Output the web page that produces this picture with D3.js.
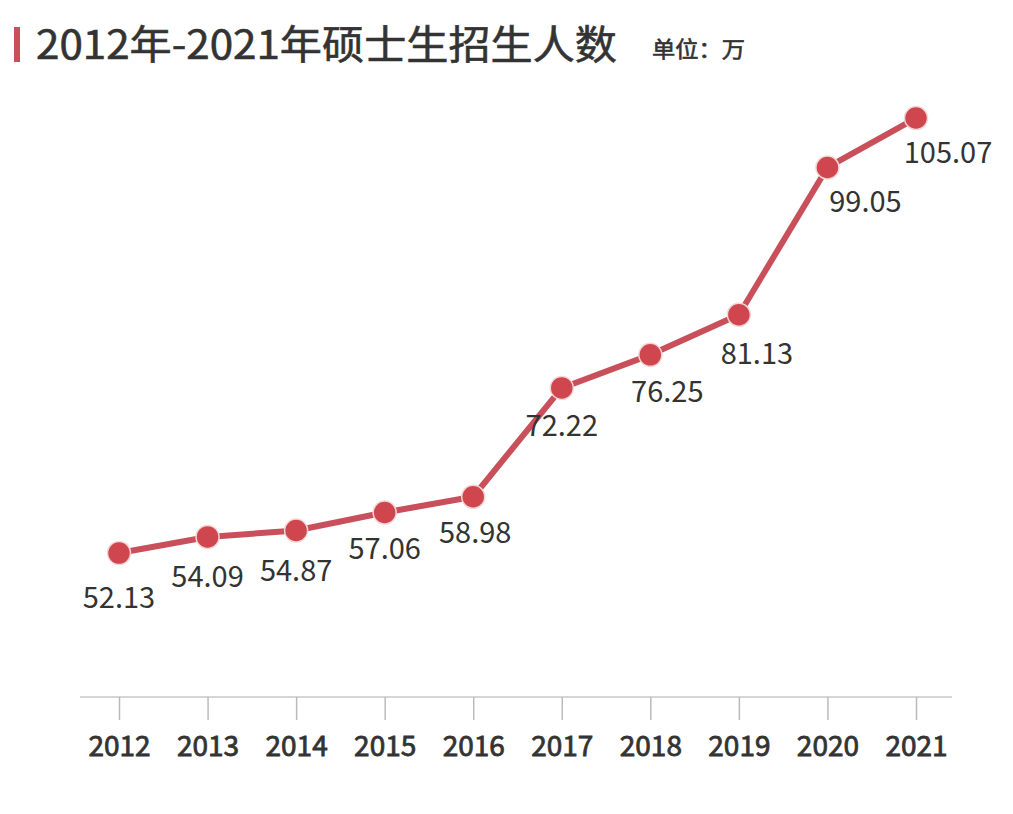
<!DOCTYPE html>
<html><head><meta charset="utf-8">
<script src="https://cdn.jsdelivr.net/npm/d3@7"></script>
<style>body{margin:0;background:#fff}svg{display:block}text{font-family:"Noto Sans CJK SC","Noto Sans",sans-serif}</style>
</head><body>
<script>
const years = ["2012","2013","2014","2015","2016","2017","2018","2019","2020","2021"];
const values = [52.13,54.09,54.87,57.06,58.98,72.22,76.25,81.13,99.05,105.07];
const labelDx = [0,0,0,0,2,0,17,18,38,32];
const labelDy = [45,40,40,36,36,38,37,39,35,35];

const W=1013,H=814;
const svg=d3.select("body").append("svg").attr("width",W).attr("height",H);
const x=d3.scalePoint().domain(years).range([119,916]);
const y=d3.scaleLinear().domain([0,110]).range([981.4,77.5]);

// title
svg.append("rect").attr("x",14).attr("y",27).attr("width",6).attr("height",35).attr("fill","#c8505a");
svg.append("text").attr("x",36).attr("y",59).attr("font-size",40).attr("font-weight",400).attr("fill","#333")
  .attr("stroke","#333").attr("stroke-width",0.6)
  .attr("textLength",581).attr("lengthAdjust","spacingAndGlyphs").text("2012年-2021年硕士生招生人数");
svg.append("text").attr("x",652).attr("y",57).attr("font-size",22).attr("font-weight",400).attr("fill","#333")
  .attr("stroke","#333").attr("stroke-width",0.6)
  .attr("textLength",93).attr("lengthAdjust","spacingAndGlyphs").text("单位：万");

// axis
const ax=svg.append("g").attr("transform","translate(0,697)")
  .call(d3.axisBottom(x).tickSize(23).tickPadding(16));
ax.select(".domain").remove();
svg.insert("line",":first-child").attr("x1",80).attr("x2",952).attr("y1",697).attr("y2",697).attr("stroke","#c8c8c8").attr("stroke-width",1.5);
ax.selectAll(".tick line").attr("stroke","#bbb").attr("stroke-width",1.5);
ax.selectAll(".tick text").attr("font-size",28).attr("font-weight",400).attr("fill","#333")
  .attr("stroke","#333").attr("stroke-width",0.8)
  .attr("font-family","\"Noto Sans CJK SC\",\"Noto Sans\",sans-serif");

// line
const line=d3.line().x((d,i)=>x(years[i])).y(d=>y(d));
svg.append("path").datum(values).attr("d",line).attr("fill","none").attr("stroke","#c9505b").attr("stroke-width",6).attr("stroke-linejoin","round");
svg.selectAll("circle.pt").data(values).join("circle").attr("class","pt")
  .attr("cx",(d,i)=>x(years[i])).attr("cy",d=>y(d)).attr("r",11.5)
  .attr("fill","#d0464f").attr("stroke","#f3d6d8").attr("stroke-width",1.5);
svg.selectAll("text.lbl").data(values).join("text").attr("class","lbl")
  .attr("x",(d,i)=>x(years[i])+labelDx[i]).attr("y",(d,i)=>y(d)+labelDy[i]+10)
  .attr("text-anchor","middle").attr("font-size",29).attr("fill","#333")
  .attr("font-family","\"Noto Sans\",sans-serif")
  .text(d=>d.toFixed(2));
</script>
</body></html>
